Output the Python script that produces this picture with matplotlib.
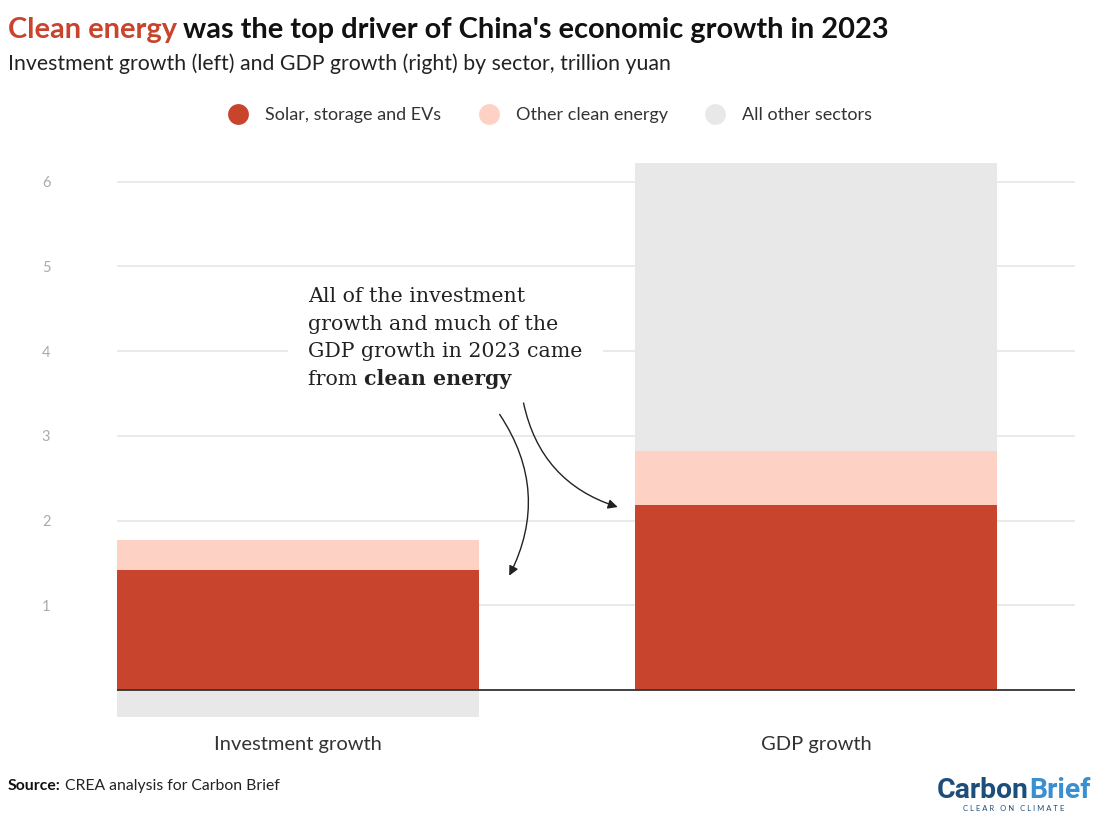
import matplotlib.pyplot as plt
from matplotlib.lines import Line2D

# data, trillion yuan
categories = ["Investment growth", "GDP growth"]
solar_storage_evs = [1.42, 2.18]
other_clean = [0.35, 0.64]
all_other = [-0.32, 3.40]
series_names = ["Solar, storage and EVs", "Other clean energy", "All other sectors"]
yticks = [1, 2, 3, 4, 5, 6]

RED = "#c8442c"
PINK = "#fdd1c4"
GREY = "#e8e8e8"

plt.rcParams['font.family'] = ['Lato', 'DejaVu Sans']

fig = plt.figure(figsize=(11.03, 8.26), dpi=100)
ax = fig.add_axes([0.1061, 0.1288, 0.8685, 0.6819])
r = fig.canvas.get_renderer()

x = [0, 1]
w = 0.70
ax.bar(x, solar_storage_evs, width=w, color=RED, zorder=3)
ax.bar(x, other_clean, width=w, bottom=solar_storage_evs, color=PINK, zorder=3)
# all other sectors: stacked on top if positive, below zero if negative
bottoms = [s + o if a > 0 else 0 for s, o, a in zip(solar_storage_evs, other_clean, all_other)]
ax.bar(x, all_other, width=w, bottom=bottoms, color=GREY, zorder=2)

ax.set_xlim(-0.35, 1.5)
ax.set_ylim(-0.35, 6.3)
ax.set_yticks(yticks)
ax.set_yticklabels([str(t) for t in yticks], color="#aaaaaa", fontsize=10.5)
ax.tick_params(axis='y', length=0, pad=48)
ax.yaxis.grid(True, color="#e6e6e6", lw=1.2, zorder=0)
ax.axhline(0, color="#333333", lw=1.3, zorder=4)
ax.set_xticks(x)
ax.set_xticklabels(categories, fontsize=14.5, color="#333333")
ax.tick_params(axis='x', length=0, pad=12)
for s in ax.spines.values():
    s.set_visible(False)

# annotation, one line at a time
serif = ['DejaVu Serif']
fs = 14.8
ann_x = 0.019
ann_lines = ["All of the investment", "growth and much of the", "GDP growth in 2023 came"]
ann_y = [4.58, 4.25, 3.93, 3.60]
for i, (txt, yy) in enumerate(zip(ann_lines, ann_y)):
    kw = {}
    if i == 2:
        # white box behind the text hides the gridline
        kw['bbox'] = dict(boxstyle='square,pad=1.0', fc='white', ec='none')
    ax.text(ann_x, yy, txt, fontsize=fs, family=serif, va='baseline', ha='left',
            color="#222222", zorder=5 if i == 2 else 6, **kw)
line4 = ax.text(ann_x, ann_y[3], "from ", fontsize=fs, family=serif, va='baseline', ha='left',
                color="#222222", zorder=6)
bb4 = line4.get_window_extent(renderer=r)
xb = ax.transData.inverted().transform((bb4.x1, 0))[0]
ax.text(xb, ann_y[3], "clean energy", fontsize=fs, family=serif, fontweight='bold',
        color="#222222", zorder=6, va='baseline', ha='left')

ax.annotate("", xy=(0.405, 1.32), xytext=(0.386, 3.28),
            arrowprops=dict(arrowstyle='-|>', color="#222222", lw=1.0,
                            connectionstyle='arc3,rad=-0.3', mutation_scale=14), zorder=6)
ax.annotate("", xy=(0.622, 2.15), xytext=(0.434, 3.42),
            arrowprops=dict(arrowstyle='-|>', color="#222222", lw=1.0,
                            connectionstyle='arc3,rad=0.3', mutation_scale=14), zorder=6)

# title and subtitle
t1 = fig.text(8 / 1103, 1 - 38 / 826, "Clean energy", fontsize=20.9, fontweight='bold',
              color=RED, va='baseline', ha='left')
bt = t1.get_window_extent(renderer=r)
fig.text((bt.x1 + 6) / 1103, 1 - 38 / 826, "was the top driver of China's economic growth in 2023",
         fontsize=20.9, fontweight='bold', color="#111111", va='baseline', ha='left')
fig.text(8 / 1103, 1 - 70 / 826, "Investment growth (left) and GDP growth (right) by sector, trillion yuan",
         fontsize=15.3, color="#222222", va='baseline', ha='left')

# legend
handles = [Line2D([], [], marker='o', ls='none', markersize=15, markerfacecolor=c, markeredgecolor='none')
           for c in [RED, PINK, GREY]]
fig.legend(handles, series_names, ncol=3, loc='center', bbox_to_anchor=(0.495, 1 - 115 / 826),
           frameon=False, fontsize=13, handletextpad=0.5, columnspacing=1.6, labelcolor="#333333")

# source
s1 = fig.text(8 / 1103, 1 - 790 / 826, "Source:", fontsize=11.3, fontweight='bold', color="#111111",
              va='baseline', ha='left')
bs = s1.get_window_extent(renderer=r)
fig.text((bs.x1 + 4) / 1103, 1 - 790 / 826, "CREA analysis for Carbon Brief", fontsize=11.3,
         color="#222222", va='baseline', ha='left')

# logo, sized to fit its box
logo_font = ['Roboto', 'DejaVu Sans']
probe = fig.text(0, 0, "CarbonBrief", fontsize=20, fontweight='bold', family=logo_font)
lfs = 20 * 153 / probe.get_window_extent(renderer=r).width
probe.remove()
l1 = fig.text(937 / 1103, 1 - 798 / 826, "Carbon", fontsize=lfs, fontweight='bold', family=logo_font,
              color="#1d4d7a", va='baseline', ha='left')
bl = l1.get_window_extent(renderer=r)
fig.text(bl.x1 / 1103, 1 - 798 / 826, "Brief", fontsize=lfs, fontweight='bold', family=logo_font,
         color="#3a8fd0", va='baseline', ha='left')
fig.text(1014 / 1103, 1 - 811 / 826, "C L E A R   O N   C L I M A T E", fontsize=5.5,
         color="#1d4d7a", va='baseline', ha='center')

fig.savefig("out.png", dpi=100, facecolor='white')
